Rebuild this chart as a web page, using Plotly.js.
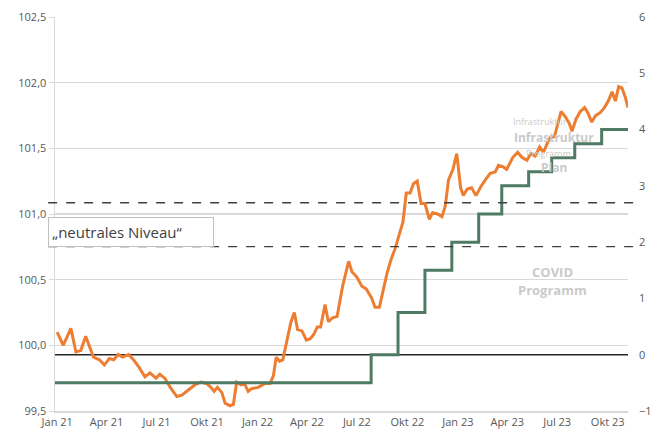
<!DOCTYPE html>
<html>
<head>
<meta charset="utf-8">
<script src="https://cdn.plot.ly/plotly-3.0.1.min.js"></script>
<style>html,body{margin:0;padding:0;background:#fff}#chart{width:653px;height:437px}</style>
</head>
<body>
<div id="chart"></div>
<script>
// Orange series (left axis)
const indexDates = [
"2021-01-01","2021-01-12","2021-01-26","2021-02-04","2021-02-13","2021-02-22","2021-03-08","2021-03-19","2021-03-28","2021-04-06",
"2021-04-14","2021-04-22","2021-04-30","2021-05-11","2021-05-20","2021-05-29","2021-06-10","2021-06-19","2021-06-30","2021-07-07",
"2021-07-16","2021-07-26","2021-08-07","2021-08-16","2021-08-28","2021-09-09","2021-09-20","2021-09-30","2021-10-08","2021-10-14",
"2021-10-20","2021-10-28","2021-11-03","2021-11-12","2021-11-18","2021-11-24","2021-12-02","2021-12-08","2021-12-15","2021-12-21",
"2022-01-02","2022-01-15","2022-01-24","2022-01-30","2022-02-04","2022-02-10","2022-02-16","2022-02-23","2022-03-03","2022-03-09",
"2022-03-15","2022-03-23","2022-03-31","2022-04-07","2022-04-13","2022-04-20","2022-04-26","2022-05-04","2022-05-10","2022-05-18",
"2022-05-26","2022-06-05","2022-06-16","2022-06-22","2022-07-01","2022-07-10","2022-07-18","2022-07-28","2022-08-03","2022-08-11",
"2022-08-17","2022-08-25","2022-09-01","2022-09-09","2022-09-18","2022-09-23","2022-09-29","2022-10-06","2022-10-12","2022-10-19",
"2022-10-26","2022-11-02","2022-11-10","2022-11-16","2022-11-25","2022-12-03","2022-12-09","2022-12-15","2022-12-23","2022-12-30",
"2023-01-06","2023-01-11","2023-01-18","2023-01-26","2023-02-03","2023-02-12","2023-02-20","2023-03-01","2023-03-10","2023-03-16",
"2023-03-24","2023-03-31","2023-04-11","2023-04-20","2023-04-28","2023-05-07","2023-05-14","2023-05-22","2023-05-30","2023-06-06",
"2023-06-13","2023-06-18","2023-06-26","2023-07-08","2023-07-16","2023-07-23","2023-07-28","2023-08-04","2023-08-12","2023-08-20",
"2023-08-26","2023-09-02","2023-09-09","2023-09-17","2023-09-25","2023-10-02","2023-10-09","2023-10-15","2023-10-21","2023-10-27",
"2023-11-02","2023-11-07"];
const indexValues = [
100.10,100.00,100.13,99.95,99.96,100.07,99.91,99.89,99.85,99.90,
99.89,99.93,99.91,99.93,99.89,99.84,99.76,99.79,99.75,99.78,
99.75,99.68,99.61,99.62,99.66,99.70,99.72,99.71,99.68,99.65,
99.68,99.64,99.56,99.54,99.55,99.72,99.70,99.71,99.65,99.67,
99.68,99.71,99.71,99.77,99.91,99.88,99.89,100.02,100.18,100.25,
100.12,100.11,100.04,100.05,100.08,100.14,100.14,100.31,100.18,100.21,
100.22,100.45,100.64,100.56,100.52,100.45,100.43,100.36,100.29,100.29,
100.40,100.55,100.65,100.74,100.87,100.94,101.16,101.16,101.23,101.25,
101.08,101.08,100.96,101.01,101.00,100.98,101.06,101.26,101.34,101.46,
101.20,101.14,101.19,101.20,101.14,101.21,101.26,101.31,101.32,101.37,
101.36,101.34,101.43,101.47,101.43,101.41,101.46,101.44,101.51,101.47,
101.54,101.58,101.59,101.78,101.74,101.69,101.63,101.72,101.78,101.81,
101.77,101.70,101.75,101.77,101.81,101.86,101.93,101.86,101.97,101.96,
101.89,101.81];

// Green step series (right axis, %)
const rateDates = ["2020-12-28","2022-07-27","2022-09-14","2022-11-02","2022-12-21","2023-02-08","2023-03-22","2023-05-10","2023-06-21","2023-08-02","2023-09-20","2023-11-07"];
const rateValues = [-0.5,0,0.75,1.5,2.0,2.5,3.0,3.25,3.5,3.75,4.0,4.0];

// Neutral level band (right axis) and zero line
const neutralLow = 1.92;
const neutralHigh = 2.70;
const zeroLine = 0;

const tickDates = ["2021-01-01","2021-04-01","2021-07-01","2021-10-01","2022-01-01","2022-04-01","2022-07-01","2022-10-01","2023-01-01","2023-04-01","2023-07-01","2023-10-01"];
const tickLabels = ["Jan 21","Apr 21","Jul 21","Okt 21","Jan 22","Apr 22","Jul 22","Okt 22","Jan 23","Apr 23","Jul 23","Okt 23"];

const fontFam = "'Open Sans', 'DejaVu Sans', sans-serif";
const ghost = "#cacaca";

const traces = [
  {x: rateDates, y: rateValues, yaxis: "y2", type: "scatter", mode: "lines",
   line: {color: "#4f7a63", width: 3, shape: "hv"}, hoverinfo: "skip"},
  {x: indexDates, y: indexValues, type: "scatter", mode: "lines",
   line: {color: "#ed7d31", width: 3}, hoverinfo: "skip"}
];

const layout = {
  width: 653, height: 437,
  margin: {l: 55, r: 25, t: 17, b: 26},
  paper_bgcolor: "#fff", plot_bgcolor: "#fff",
  showlegend: false,
  separators: ",.",
  font: {family: fontFam, size: 11, color: "#595959"},
  xaxis: {type: "date", range: ["2020-12-28", "2023-11-07"],
    tickvals: tickDates, ticktext: tickLabels, showgrid: false,
    showline: true, linecolor: "#d9d9d9", linewidth: 1.5, ticks: "", zeroline: false,
    tickfont: {size: 11, color: "#595959"}},
  yaxis: {range: [99.5, 102.5], dtick: 0.5, tickformat: ".1f",
    showgrid: true, gridcolor: "#d9d9d9", gridwidth: 1.5,
    showline: true, linecolor: "#d9d9d9", linewidth: 1.5,
    ticks: "outside", ticklen: 5, tickcolor: "#d9d9d9", zeroline: false,
    tickfont: {size: 11, color: "#595959"}},
  yaxis2: {overlaying: "y", side: "right", range: [-1, 6], dtick: 1,
    showgrid: false, showline: false, zeroline: false, ticks: "", ticklabelstandoff: 10,
    tickfont: {size: 11, color: "#595959"}},
  shapes: [
    {type: "line", xref: "paper", yref: "y2", x0: 0, x1: 1, y0: zeroLine, y1: zeroLine,
     line: {color: "#262626", width: 1.6}, layer: "below"},
    {type: "line", xref: "paper", yref: "y2", x0: -0.012, x1: 1.018, y0: neutralHigh, y1: neutralHigh,
     line: {color: "#404040", width: 1.3, dash: "dash"}},
    {type: "line", xref: "paper", yref: "y2", x0: -0.012, x1: 1.018, y0: neutralLow, y1: neutralLow,
     line: {color: "#404040", width: 1.3, dash: "dash"}}
  ],
  annotations: [
    {xref: "paper", yref: "paper", x: -0.012, y: 0.493, xanchor: "left", yanchor: "top",
     text: "„neutrales Niveau“", showarrow: false, align: "left",
     font: {family: fontFam, size: 15, color: "#404040"},
     bgcolor: "#ffffff", bordercolor: "#bfbfbf", borderwidth: 1, borderpad: 3,
     width: 158, height: 22},
    {xref: "paper", yref: "paper", x: 0.846, y: 0.734, xanchor: "center", yanchor: "middle",
     text: "Infrastruktur", showarrow: false, font: {family: fontFam, size: 9, color: ghost}},
    {xref: "paper", yref: "paper", x: 0.87, y: 0.693, xanchor: "center", yanchor: "middle",
     text: "<b>Infrastruktur</b>", showarrow: false, font: {family: fontFam, size: 12, color: ghost}},
    {xref: "paper", yref: "paper", x: 0.862, y: 0.654, xanchor: "center", yanchor: "middle",
     text: "Programm", showarrow: false, font: {family: fontFam, size: 9, color: ghost}},
    {xref: "paper", yref: "paper", x: 0.87, y: 0.617, xanchor: "center", yanchor: "middle",
     text: "<b>Plan</b>", showarrow: false, font: {family: fontFam, size: 12, color: ghost}},
    {xref: "paper", yref: "paper", x: 0.869, y: 0.353, xanchor: "center", yanchor: "middle",
     text: "<b>COVID</b>", showarrow: false, font: {family: fontFam, size: 13, color: ghost}},
    {xref: "paper", yref: "paper", x: 0.869, y: 0.306, xanchor: "center", yanchor: "middle",
     text: "<b>Programm</b>", showarrow: false, font: {family: fontFam, size: 13, color: ghost}}
  ]
};

Plotly.newPlot("chart", traces, layout, {displayModeBar: false, staticPlot: true});
</script>
</body>
</html>
